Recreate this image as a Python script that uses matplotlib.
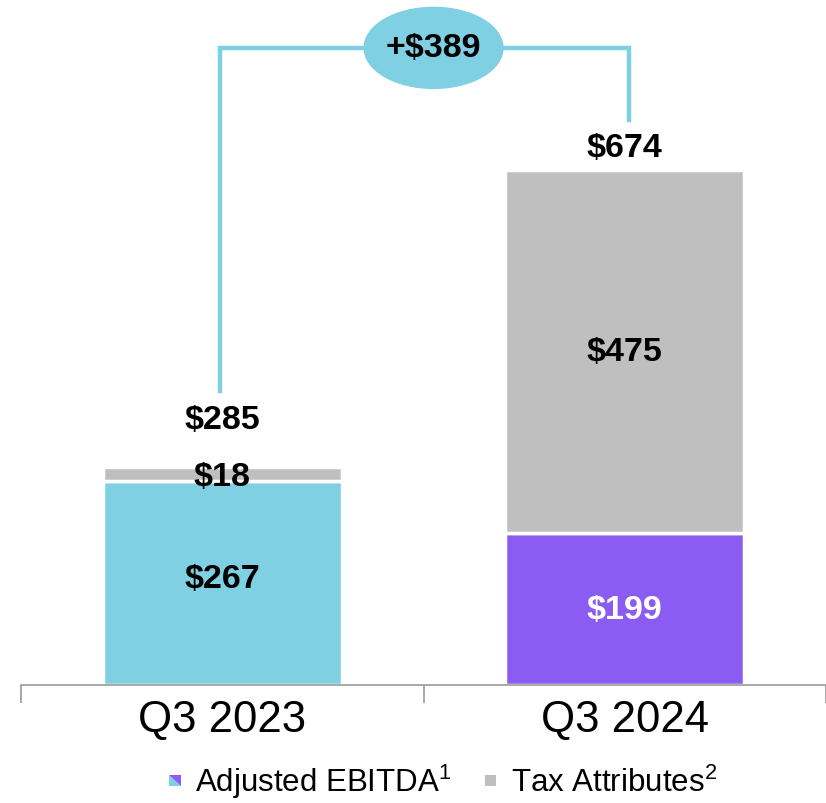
import matplotlib.pyplot as plt
from matplotlib.patches import Ellipse, Polygon, Rectangle
from matplotlib.legend_handler import HandlerBase

plt.rcParams['font.family'] = ['Liberation Sans', 'DejaVu Sans']
plt.rcParams['mathtext.fontset'] = 'custom'
plt.rcParams['mathtext.rm'] = 'Liberation Sans'

quarters = ['Q3 2023', 'Q3 2024']
ebitda = [267, 199]
tax = [18, 475]
totals = [285, 674]
change = '+$389'

CYAN = '#7fd0e3'
PURPLE = '#8b5cf2'
GRAY = '#bfbfbf'


class SplitSquare(HandlerBase):
    # small square split on the diagonal: cyan lower-left, purple upper-right
    def __init__(self, colors):
        super().__init__()
        self.colors = colors

    def create_artists(self, legend, orig, xd, yd, width, height, fontsize, trans):
        s = min(width, height) * 0.75
        x0 = xd + (width - s) / 2
        y0 = yd + (height - s) / 2
        if self.colors is None:
            return [Rectangle((x0, y0), s, s, color=GRAY, lw=0, transform=trans)]
        lo = Polygon([(x0, y0 + s), (x0, y0), (x0 + s, y0)], closed=True,
                     color=self.colors[0], lw=0, transform=trans)
        hi = Polygon([(x0, y0 + s), (x0 + s, y0 + s), (x0 + s, y0)], closed=True,
                     color=self.colors[1], lw=0, transform=trans)
        return [lo, hi]


fig = plt.figure(figsize=(8.26, 8.04), dpi=100)
ax = fig.add_axes([21 / 826, 118 / 804, 805 / 826, 686 / 804])
x = [0, 1]
w = 0.595
ax.bar(x, ebitda, w, color=[CYAN, PURPLE], edgecolor='white', linewidth=2.5)
ax.bar(x, tax, w, bottom=ebitda, color=GRAY, edgecolor='white', linewidth=2.5)

lab = dict(ha='center', va='center', fontsize=24.5, fontweight='bold')
ax.text(0, ebitda[0] / 2 + 6, f'${ebitda[0]}', color='black', **lab)
ax.text(1, ebitda[1] / 2 - 1, f'${ebitda[1]}', color='white', **lab)
ax.text(0, ebitda[0] + tax[0] / 2 - 3, f'${tax[0]}', color='black', **lab)
ax.text(1, ebitda[1] + tax[1] / 2, f'${tax[1]}', color='black', **lab)
ax.text(0, totals[0] + 63, f'${totals[0]}', color='black', **lab)
ax.text(1, totals[1] + 30, f'${totals[1]}', color='black', **lab)

# bracket connecting the two totals
ytop = 834
ax.plot([-0.005, -0.005, 1.01, 1.01], [totals[0] + 100, ytop, ytop, totals[1] + 66],
        color=CYAN, linewidth=3.2, solid_joinstyle='miter', zorder=2, clip_on=False)
ax.add_patch(Ellipse((0.525, ytop), 0.345, 106, color=CYAN, zorder=3, clip_on=False))
ax.text(0.525, ytop, change, ha='center', va='center', fontsize=24.5,
        fontweight='bold', zorder=4)

ax.set_xlim(-0.5, 1.5)
ax.set_ylim(0, 898)
for s in ['top', 'right', 'left']:
    ax.spines[s].set_visible(False)
ax.spines['bottom'].set_color('#999999')
ax.spines['bottom'].set_linewidth(1.2)
ax.set_yticks([])
ax.set_xticks(x)
ax.set_xticklabels(quarters, fontsize=31.5)
ax.tick_params(axis='x', which='major', length=0, pad=10)
ax.set_xticks([-0.5, 0.5, 1.5], minor=True)
ax.tick_params(axis='x', which='minor', length=13, color='#999999', width=1.2)

h1 = Rectangle((0, 0), 1, 1)
h2 = Rectangle((0, 0), 1, 1)
fig.legend([h1, h2], ['Adjusted EBITDA$^{1}$', 'Tax Attributes$^{2}$'],
           handler_map={h1: SplitSquare((CYAN, PURPLE)), h2: SplitSquare(None)},
           loc='center', bbox_to_anchor=(0.535, 0.027), ncol=2, frameon=False,
           fontsize=22.5, handlelength=0.5, handleheight=0.7, handletextpad=0.4,
           columnspacing=1.0, borderpad=0)

fig.savefig('out.png', dpi=100)
